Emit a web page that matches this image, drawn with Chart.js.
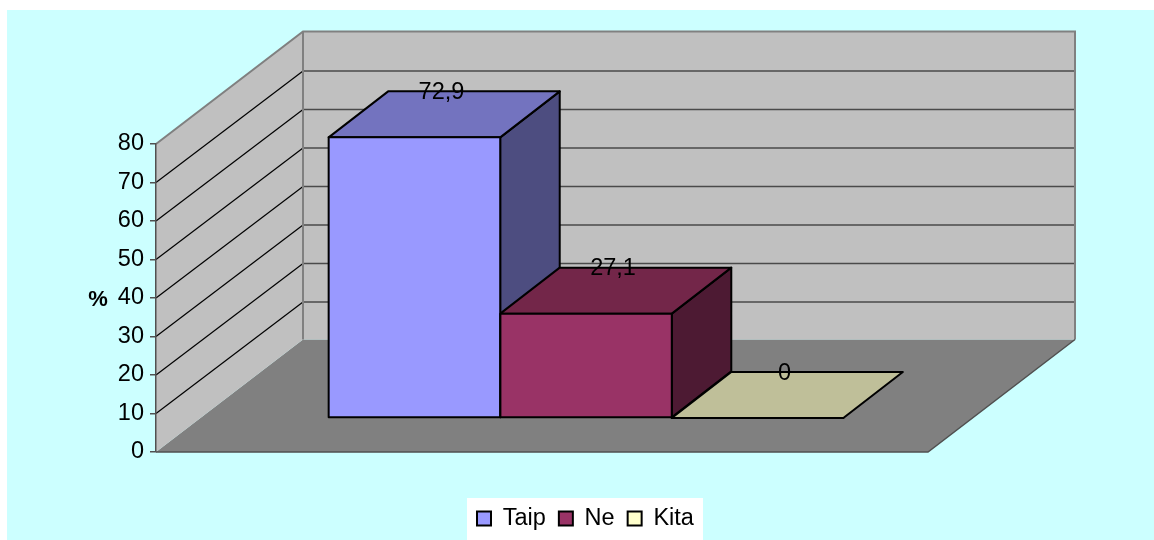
<!DOCTYPE html>
<html>
<head>
<meta charset="utf-8">
<title>Taip / Ne / Kita</title>
<script src="https://cdn.jsdelivr.net/npm/chart.js@4/dist/chart.umd.min.js"></script>
<style>
  body { margin: 0; background: #ffffff; }
  canvas { display: block; }
</style>
</head>
<body>
<canvas id="answerChart" width="1154" height="540"></canvas>
<script>
const categories = [""];
const seriesNames = ["Taip", "Ne", "Kita"];
const taipValues = [72.9];
const neValues = [27.1];
const kitaValues = [0];
const yTickStep = 10;
const yMax = 80;

const frontColors = ["#9999ff", "#993366", "#ffffcc"];
const topColors = ["#7373bf", "#732649", "#bfbf99"];
const sideColors = ["#4d4d80", "#4d1a33", "#808066"];

const fontName = '"Liberation Sans", Arial, sans-serif';
const fontSize = 23.5;

// depth of the box the chart stands in, and of the bars inside it
const wallDepth = { x: 147, y: 112.5 };
const gridDepthY = 111.5;
const barOffset = { x: 44, y: 34 };
const barDepth = { x: 59.5, y: 46 };
const legendBox = { left: 467, top: 498, right: 703, bottom: 540 };

function fillPoly(ctx, points, fill, stroke, lineWidth) {
  ctx.beginPath();
  points.forEach((p, i) => (i ? ctx.lineTo(p[0], p[1]) : ctx.moveTo(p[0], p[1])));
  ctx.closePath();
  if (fill) {
    ctx.fillStyle = fill;
    ctx.fill();
  }
  if (stroke) {
    ctx.strokeStyle = stroke;
    ctx.lineWidth = lineWidth;
    ctx.lineJoin = "round";
    ctx.stroke();
  }
}

function strokeLine(ctx, points, color, lineWidth) {
  ctx.beginPath();
  points.forEach((p, i) => (i ? ctx.lineTo(p[0], p[1]) : ctx.moveTo(p[0], p[1])));
  ctx.strokeStyle = color;
  ctx.lineWidth = lineWidth;
  ctx.stroke();
}

function barEdges(chart, i) {
  const bar = chart.getDatasetMeta(i).data[0];
  return {
    x0: bar.x - bar.width / 2,
    x1: bar.x + bar.width / 2,
    y0: bar.y,
    y1: bar.base,
  };
}

const box3d = {
  id: "box3d",

  afterLayout(chart) {
    // legend sits off-centre in its white panel; right is only the wrap limit
    const legend = chart.legend;
    legend.left = 464;
    legend.right = 800;
    legend.top = 493.75;
    legend.bottom = 540;
  },

  beforeDraw(chart) {
    const ctx = chart.ctx;
    const { left, right, top, bottom } = chart.chartArea;
    const dx = wallDepth.x;
    const dy = wallDepth.y;
    const yScale = chart.scales.y;

    ctx.save();
    ctx.fillStyle = "#ccffff";
    ctx.fillRect(7, 10, chart.width - 7, chart.height - 10);

    ctx.fillStyle = "#ffffff";
    ctx.fillRect(
      legendBox.left,
      legendBox.top,
      legendBox.right - legendBox.left,
      legendBox.bottom - legendBox.top
    );

    // floor
    fillPoly(ctx, [
      [left, bottom],
      [left + dx, bottom - dy],
      [right + dx, bottom - dy],
      [right, bottom],
    ], "#808080");

    // side wall and back wall
    fillPoly(ctx, [
      [left, top],
      [left + dx, top - dy],
      [left + dx, bottom - dy],
      [left, bottom],
    ], "#c0c0c0");
    fillPoly(ctx, [
      [left + dx, top - dy],
      [right + dx, top - dy],
      [right + dx, bottom - dy],
      [left + dx, bottom - dy],
    ], "#c0c0c0");

    // gridlines run across the side wall, then along the back wall
    yScale.ticks.forEach((tick) => {
      if (tick.value === 0 || tick.value === yMax) return;
      const y = yScale.getPixelForValue(tick.value);
      strokeLine(ctx, [[left, y], [left + dx, y - gridDepthY]], "#000000", 1.2);
      strokeLine(ctx, [[left + dx, y - gridDepthY], [right + dx, y - gridDepthY]], "#4a4a4a", 1.6);
    });

    // wall outlines
    strokeLine(ctx, [
      [left, top],
      [left + dx, top - dy],
      [right + dx, top - dy],
      [right + dx, bottom - dy],
    ], "#808080", 2);
    strokeLine(ctx, [[left + dx, top - dy], [left + dx, bottom - dy]], "#808080", 2);

    // front and right edge of the floor
    strokeLine(ctx, [
      [left, bottom],
      [right, bottom],
      [right + dx, bottom - dy],
    ], "#505050", 1.5);
    ctx.restore();
  },

  beforeDatasetsDraw(chart) {
    const ctx = chart.ctx;
    ctx.save();
    ctx.translate(barOffset.x, -barOffset.y);

    chart.data.datasets.forEach((dataset, i) => {
      const { x0, x1, y0, y1 } = barEdges(chart, i);
      if (y1 - y0 > 0.5) {
        fillPoly(ctx, [
          [x1, y0],
          [x1 + barDepth.x, y0 - barDepth.y],
          [x1 + barDepth.x, y1 - barDepth.y],
          [x1, y1],
        ], sideColors[i], "#000000", 2);
      }
      fillPoly(ctx, [
        [x0, y0],
        [x0 + barDepth.x, y0 - barDepth.y],
        [x1 + barDepth.x, y0 - barDepth.y],
        [x1, y0],
      ], topColors[i], "#000000", 2);
    });
    // the bars themselves are drawn by Chart.js under this same translation
  },

  afterDatasetsDraw(chart) {
    const ctx = chart.ctx;
    chart.data.datasets.forEach((dataset, i) => {
      const { x0, x1, y0, y1 } = barEdges(chart, i);
      fillPoly(ctx, [[x0, y0], [x1, y0], [x1, y1], [x0, y1]], null, "#000000", 2);
    });
    ctx.restore();
  },

  afterDraw(chart) {
    const ctx = chart.ctx;
    ctx.save();
    ctx.fillStyle = "#000000";
    ctx.font = fontSize + "px " + fontName;
    ctx.textAlign = "center";
    ctx.textBaseline = "alphabetic";

    chart.data.datasets.forEach((dataset, i) => {
      const { x0, x1, y0 } = barEdges(chart, i);
      const label = String(dataset.data[0]).replace(".", ",");
      ctx.fillText(label, (x0 + x1) / 2 + barOffset.x + 27, y0 - barOffset.y - 38.5);
    });

    ctx.font = "bold 22px " + fontName;
    ctx.fillText("%", 98, 306);
    ctx.restore();
  },
};

const canvas = document.getElementById("answerChart");
canvas.getContext("2d").fontKerning = "none";

new Chart(canvas, {
  type: "bar",
  data: {
    labels: categories,
    datasets: [
      { label: seriesNames[0], data: taipValues, backgroundColor: frontColors[0] },
      { label: seriesNames[1], data: neValues, backgroundColor: frontColors[1] },
      { label: seriesNames[2], data: kitaValues, backgroundColor: frontColors[2] },
    ],
  },
  options: {
    responsive: false,
    animation: false,
    datasets: {
      bar: {
        barPercentage: 1,
        categoryPercentage: 2 / 3,
        borderWidth: 0,
        clip: false,
      },
    },
    layout: { padding: { left: 0, right: 226, top: 144, bottom: 41.5 } },
    scales: {
      x: { display: false },
      y: {
        min: 0,
        max: yMax,
        afterFit(scale) {
          scale.width = 156;
        },
        ticks: {
          stepSize: yTickStep,
          padding: 6,
          color: "#000000",
          font: { family: fontName, size: fontSize },
        },
        grid: {
          drawOnChartArea: false,
          drawTicks: true,
          tickLength: 6,
          color: "#505050",
          lineWidth: 1.5,
        },
        border: { color: "#505050", width: 1.5 },
      },
    },
    plugins: {
      tooltip: { enabled: false },
      legend: {
        position: "bottom",
        align: "start",
        labels: {
          boxWidth: 14,
          boxHeight: 14,
          padding: 13,
          color: "#000000",
          font: { family: fontName, size: fontSize },
          generateLabels(chart) {
            return Chart.defaults.plugins.legend.labels.generateLabels(chart).map((item) => ({
              ...item,
              strokeStyle: "#000000",
              lineWidth: 2,
            }));
          },
        },
      },
    },
  },
  plugins: [box3d],
});
</script>
</body>
</html>
